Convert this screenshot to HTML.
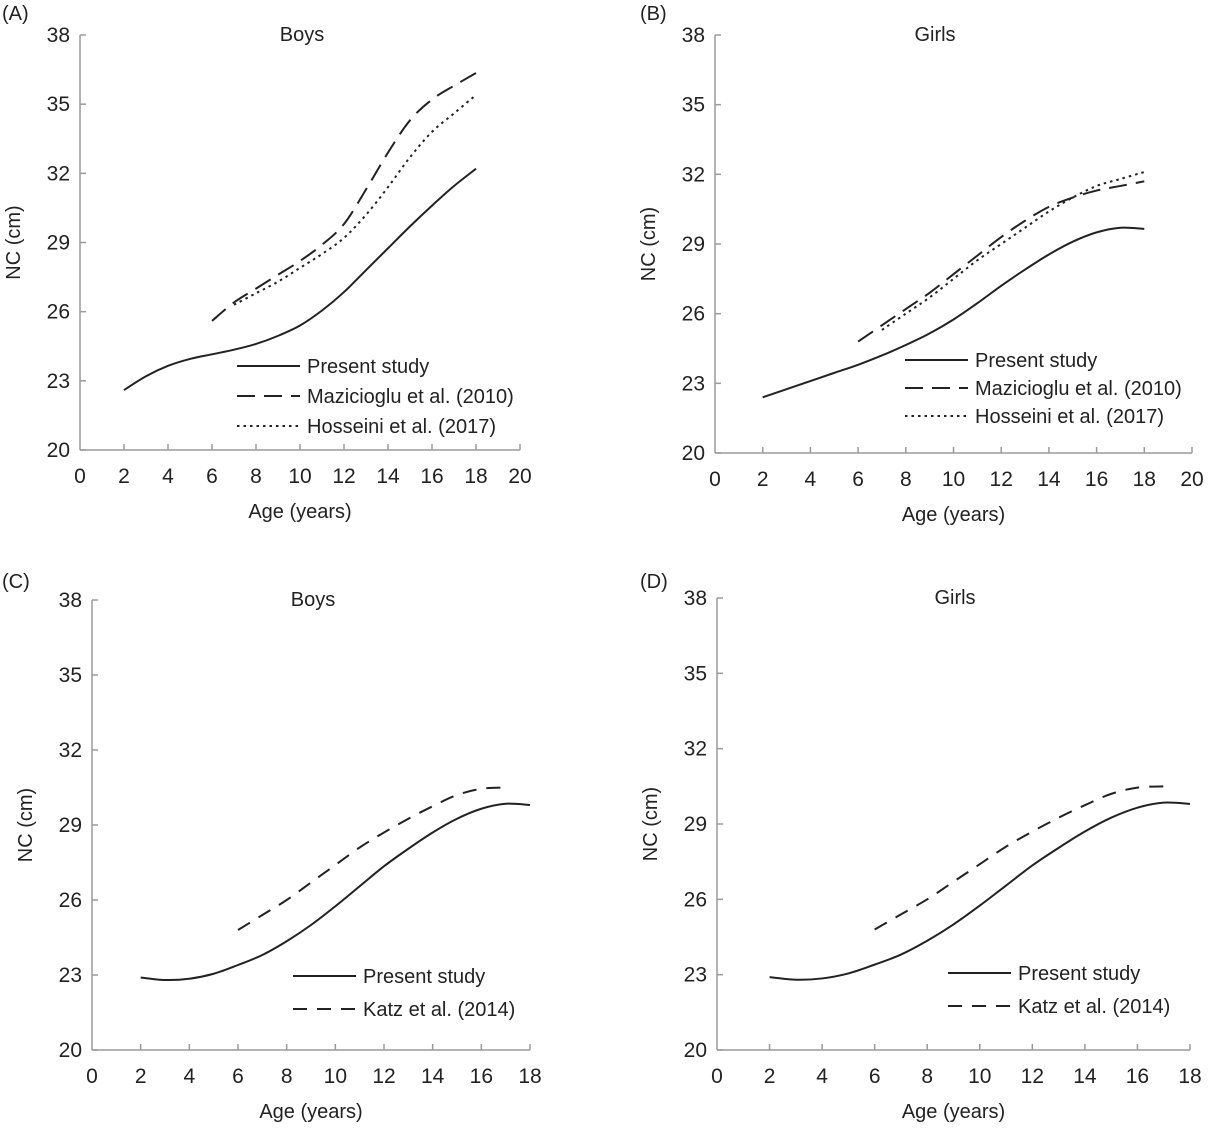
<!DOCTYPE html>
<html><head><meta charset="utf-8"><style>
body{margin:0;background:#fff}
svg{display:block;font-family:"Liberation Sans",sans-serif;fill:#222}
</style></head><body>
<svg id="c" width="1211" height="1131" viewBox="0 0 1211 1131"></svg>
<script>
const ages = [2,3,4,5,6,7,8,9,10,11,12,13,14,15,16,17,18];
const presentBoysA = [22.6,23.2,23.65,23.95,24.15,24.35,24.6,24.95,25.4,26.05,26.85,27.8,28.75,29.7,30.6,31.45,32.2];
const mazAges = [6,7,8,9,10,11,12,13,14,15,16,17,18];
const mazBoys = [25.6,26.4,27.0,27.6,28.2,28.9,29.8,31.3,32.9,34.3,35.2,35.8,36.35];
const hossAges = [7,8,9,10,11,12,13,14,15,16,17,18];
const hossBoys = [26.3,26.8,27.3,27.9,28.5,29.2,30.2,31.4,32.7,33.8,34.6,35.4];
const presentGirlsB = [22.4,22.75,23.1,23.45,23.8,24.2,24.65,25.15,25.75,26.45,27.2,27.9,28.55,29.1,29.5,29.7,29.65];
const mazGirls = [24.8,25.5,26.2,26.9,27.7,28.5,29.3,30.0,30.6,31.0,31.3,31.5,31.7];
const hossGirls = [25.3,26.0,26.7,27.5,28.3,29.0,29.7,30.4,31.0,31.5,31.8,32.1];
const presentC = [22.9,22.8,22.85,23.05,23.4,23.8,24.35,25.0,25.75,26.55,27.35,28.05,28.7,29.25,29.65,29.85,29.8];
const katzAges = [6,7,8,9,10,11,12,13,14,15,16,17];
const katz = [24.8,25.4,26.0,26.7,27.4,28.1,28.7,29.25,29.75,30.2,30.45,30.5];
const yTicks = [20,23,26,29,32,35,38];
const xTicks20 = [0,2,4,6,8,10,12,14,16,18,20];
const xTicks18 = [0,2,4,6,8,10,12,14,16,18];

const svg=document.getElementById('c');
const NS='http://www.w3.org/2000/svg';
function mk(tag,attrs,parent){const e=document.createElementNS(NS,tag);for(const k in attrs)e.setAttribute(k,attrs[k]);(parent||svg).appendChild(e);return e;}
function txt(x,y,s,size,anchor,parent,rot){const t=mk('text',{x:x,y:y,'font-size':size,'text-anchor':anchor||'middle'},parent);if(rot)t.setAttribute('transform','rotate(-90 '+x+' '+y+')');t.textContent=s;return t;}
function path(pts){let d='M'+pts[0][0]+','+pts[0][1];for(let i=0;i<pts.length-1;i++){const p0=pts[i-1]||pts[i],p1=pts[i],p2=pts[i+1],p3=pts[i+2]||p2;const c1=[p1[0]+(p2[0]-p0[0])/6,p1[1]+(p2[1]-p0[1])/6],c2=[p2[0]-(p3[0]-p1[0])/6,p2[1]-(p3[1]-p1[1])/6];d+=' C'+c1+' '+c2+' '+p2;}return d;}
const styles={solid:'',dash:'18,9',dot:'2.5,4',katz:'14,10'};
function panel(cfg){
  const g=mk('g',{});
  
  
  const xs=v=>cfg.x0+(v-0)/cfg.xmax*(cfg.x1-cfg.x0);
  const ys=v=>cfg.y1-(v-20)/18*(cfg.y1-cfg.y0);
  const ax=mk('g',{stroke:'#9a9a9a','stroke-width':1.5},g);
  
  
  mk('line',{x1:cfg.x0,y1:cfg.y0,x2:cfg.x0,y2:cfg.y1},ax);
  mk('line',{x1:cfg.x0,y1:cfg.y1,x2:cfg.x1,y2:cfg.y1},ax);
  yTicks.forEach(v=>{mk('line',{x1:cfg.x0,y1:ys(v),x2:cfg.x0+6,y2:ys(v)},ax);const t=txt(cfg.x0-10,ys(v)+7,String(v),21,'end',g);});
  cfg.xt.forEach(v=>{if(v>0)mk('line',{x1:xs(v),y1:cfg.y1,x2:xs(v),y2:cfg.y1-6},ax);const t=txt(xs(v),cfg.y1+33,String(v),21,'middle',g);});
  let t=txt(cfg.x0-60,(cfg.y0+cfg.y1)/2,'NC (cm)',20,'middle',g,true);
  t=txt((cfg.x0+cfg.x1)/2,cfg.y1+68,'Age (years)',20,'middle',g);
  t=txt(cfg.tx,cfg.y0+6,cfg.title,20,'middle',g);
  t=txt(cfg.lx,cfg.ly,cfg.label,20,'start',g);
  cfg.series.forEach((s,i)=>{
    const p=mk('path',{d:path(s.x.map((a,j)=>[xs(a),ys(s.y[j])])),fill:'none',stroke:'#222','stroke-width':2,'stroke-dasharray':styles[s.st]},g);
    
    
    const ly=cfg.leg[1]+i*cfg.leg[2];
    const l=mk('line',{x1:cfg.leg[0],y1:ly,x2:cfg.leg[0]+63,y2:ly,stroke:'#222','stroke-width':2,'stroke-dasharray':styles[s.st]},g);
    
    
    const lt=txt(cfg.leg[0]+70,ly+7,s.label,20,'start',g);
    
    
  });
}
panel({name:'panel-a-boys',label:'(A)',ly:20,x0:80,x1:520,xmax:20,y0:35,y1:450,xt:xTicks20,title:'Boys',tx:302,lx:2,leg:[237,366,30],
 series:[{key:'present',x:ages,y:presentBoysA,st:'solid',label:'Present study'},{key:'mazicioglu',x:mazAges,y:mazBoys,st:'dash',label:'Mazicioglu et al. (2010)'},{key:'hosseini',x:hossAges,y:hossBoys,st:'dot',label:'Hosseini et al. (2017)'}]});
panel({name:'panel-b-girls',label:'(B)',ly:20,x0:715,x1:1192,xmax:20,y0:35,y1:453,xt:xTicks20,title:'Girls',tx:935,lx:640,leg:[905,360,28],
 series:[{key:'present',x:ages,y:presentGirlsB,st:'solid',label:'Present study'},{key:'mazicioglu',x:mazAges,y:mazGirls,st:'dash',label:'Mazicioglu et al. (2010)'},{key:'hosseini',x:hossAges,y:hossGirls,st:'dot',label:'Hosseini et al. (2017)'}]});
panel({name:'panel-c-boys',label:'(C)',ly:588,x0:92,x1:530,xmax:18,y0:600,y1:1050,xt:xTicks18,title:'Boys',tx:313,lx:2,leg:[293,976,33],
 series:[{key:'present',x:ages,y:presentC,st:'solid',label:'Present study'},{key:'katz',x:katzAges,y:katz,st:'katz',label:'Katz et al. (2014)'}]});
panel({name:'panel-d-girls',label:'(D)',ly:588,x0:717,x1:1190,xmax:18,y0:598,y1:1050,xt:xTicks18,title:'Girls',tx:955,lx:640,leg:[948,973,33],
 series:[{key:'present',x:ages,y:presentC,st:'solid',label:'Present study'},{key:'katz',x:katzAges,y:katz,st:'katz',label:'Katz et al. (2014)'}]});
</script>
</body></html>
